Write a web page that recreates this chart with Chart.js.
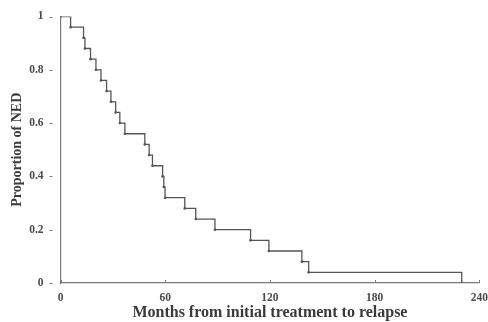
<!DOCTYPE html>
<html>
<head>
<meta charset="utf-8">
<script src="https://cdn.jsdelivr.net/npm/chart.js@4.4.1/dist/chart.umd.min.js"></script>
<style>
html,body{margin:0;padding:0;background:#fff;}
canvas{display:block;}
</style>
</head>
<body>
<canvas id="c" width="488" height="322"></canvas>
<script>
// Kaplan-Meier step data (months, proportion NED)
const months = [0, 5.8, 13.2, 14.0, 17.2, 20.3, 23.2, 26.4, 28.9, 31.6, 34.0, 36.9, 48.3, 50.8, 52.7, 58.5, 59.2, 59.9, 71.2, 77.5, 88.5, 108.9, 119.4, 138.3, 142.2, 229.9];
const proportion = [1, 0.96, 0.92, 0.88, 0.84, 0.80, 0.76, 0.72, 0.68, 0.64, 0.60, 0.56, 0.52, 0.48, 0.44, 0.40, 0.36, 0.32, 0.28, 0.24, 0.20, 0.16, 0.12, 0.08, 0.04, 0];
const xTicks = [0, 60, 120, 180, 240];
const yTicks = [0, 0.2, 0.4, 0.6, 0.8, 1];
const xTitle = 'Months from initial treatment to relapse';
const yTitle = 'Proportion of NED';

const points = months.map((m, i) => ({x: m, y: proportion[i]}));
const axisColor = '#7a7a7a';
const textColor = '#4a4a4a';
const fontFam = "'Liberation Serif', 'DejaVu Serif', serif";

const tickPlugin = {
  id: 'innerTicks',
  afterDraw(chart) {
    const ctx = chart.ctx;
    const xs = chart.scales.x, ys = chart.scales.y;
    ctx.save();
    ctx.strokeStyle = axisColor;
    ctx.lineWidth = 1;
    xTicks.forEach(v => {
      const px = Math.round(xs.getPixelForValue(v)) + 0.5;
      ctx.beginPath();
      ctx.moveTo(px, xs.top);
      ctx.lineTo(px, xs.top - 3);
      ctx.stroke();
    });
    yTicks.forEach(v => {
      const py = Math.round(ys.getPixelForValue(v)) + 0.5;
      ctx.beginPath();
      ctx.moveTo(ys.right - 11, py);
      ctx.lineTo(ys.right - 8, py);
      ctx.stroke();
    });
    ctx.restore();
  }
};

new Chart(document.getElementById('c'), {
  type: 'line',
  data: {
    datasets: [{
      data: points,
      stepped: 'before',
      borderColor: '#555',
      borderWidth: 1.3,
      pointRadius: 1.3,
      pointBackgroundColor: '#555',
      pointBorderWidth: 0,
      fill: false
    }]
  },
  plugins: [tickPlugin],
  options: {
    responsive: false,
    animation: false,
    layout: {padding: {top: 16.5, right: 8, left: 0, bottom: 0}},
    plugins: {legend: {display: false}, tooltip: {enabled: false}},
    scales: {
      x: {
        type: 'linear',
        min: 0, max: 240,
        afterBuildTicks: s => { s.ticks = xTicks.map(v => ({value: v})); },
        afterFit: s => { s.height = 39; },
        grid: {display: false},
        border: {display: true, color: axisColor, width: 1.2},
        ticks: {padding: 0, color: textColor, font: {family: fontFam, size: 11.5, weight: 'bold'}},
        title: {display: true, text: xTitle, color: '#3a3a3a', padding: {top: 0, bottom: 0}, font: {family: fontFam, size: 16, weight: 'bold'}}
      },
      y: {
        type: 'linear',
        min: 0, max: 1,
        afterBuildTicks: s => { s.ticks = yTicks.map(v => ({value: v})); },
        afterFit: s => { s.width = 60.5; },
        grid: {display: false},
        border: {display: true, color: axisColor, width: 1.2},
        ticks: {padding: 9, color: textColor, font: {family: fontFam, size: 11.5, weight: 'bold'}, callback: v => String(v)},
        title: {display: true, text: yTitle, color: '#3a3a3a', padding: {top: 9, bottom: 0}, font: {family: fontFam, size: 14, weight: 'bold'}}
      }
    }
  }
});
</script>
</body>
</html>
